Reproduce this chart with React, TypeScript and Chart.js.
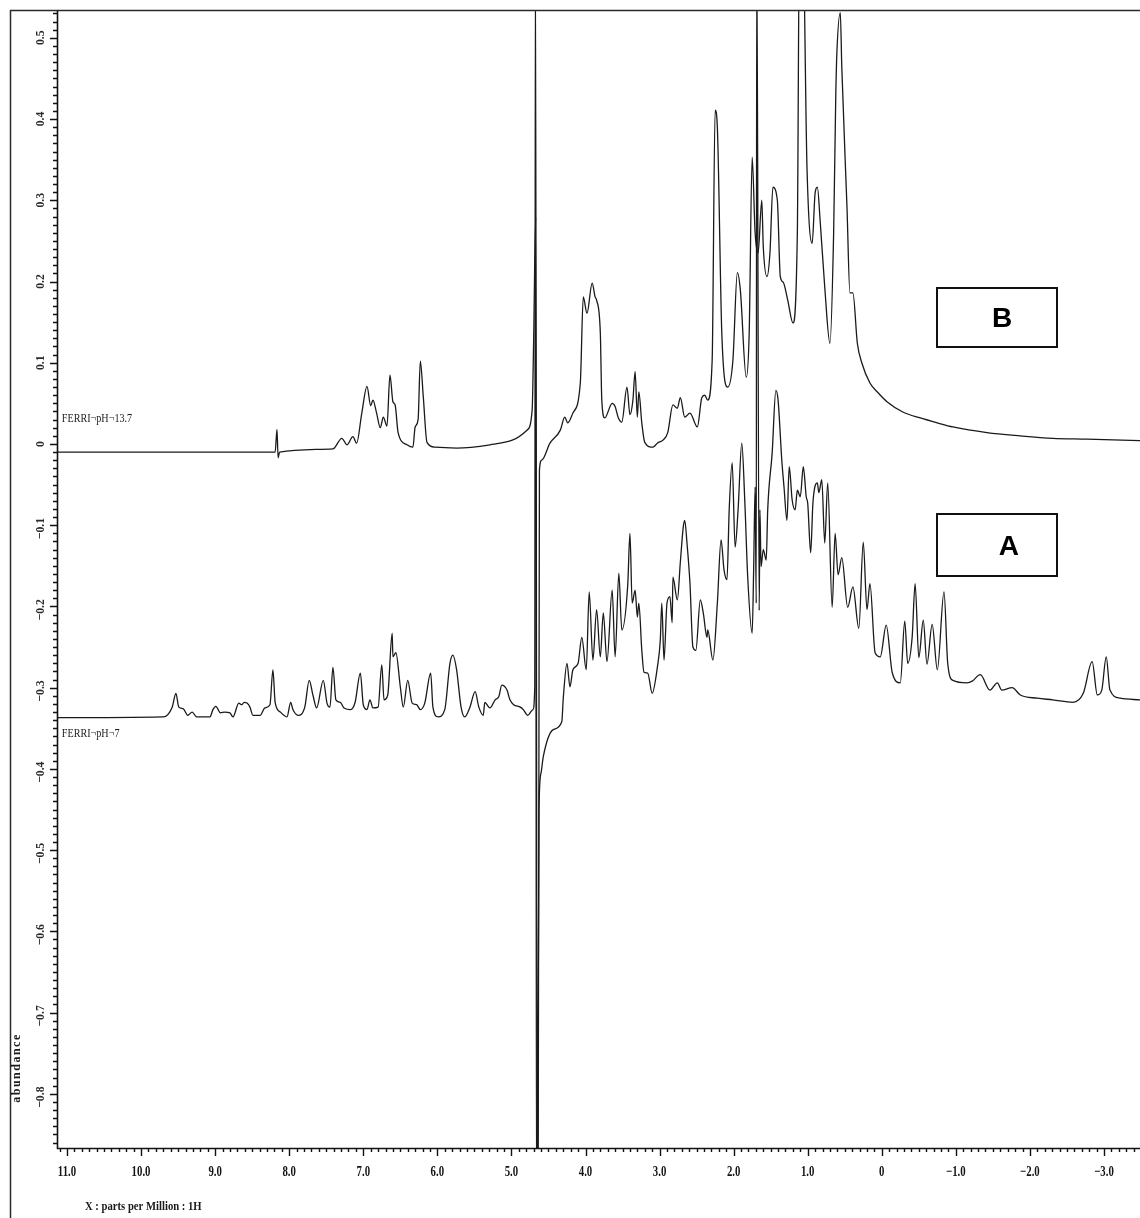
import React, { useEffect, useRef } from "react";
import { Chart, registerables } from "chart.js";

Chart.register(...registerables);

// ---- Spectrum B (FERRI pH 13.7): chemical shift (ppm) and abundance ----
const ppmB = [
  11.13, 9.88, 8.53, 8.19, 8.165, 8.15, 8.13, 7.41, 7.29, 7.22,
  7.14, 7.09, 7.02, 6.95, 6.9, 6.87, 6.82, 6.77, 6.73, 6.68,
  6.64, 6.6, 6.57, 6.53, 6.41, 6.33, 6.3, 6.26, 6.23, 6.19,
  6.14, 6.03, 5.74, 5.29, 4.98, 4.79, 4.72, 4.7, 4.672, 4.662,
  4.64, 4.622, 4.59, 4.48, 4.34, 4.28, 4.24, 4.17, 4.07, 4.03,
  3.98, 3.91, 3.87, 3.85, 3.8, 3.78, 3.74, 3.64, 3.6, 3.56,
  3.51, 3.44, 3.4, 3.36, 3.33, 3.3, 3.28, 3.24, 3.2, 3.09,
  3.03, 2.95, 2.89, 2.82, 2.76, 2.72, 2.66, 2.59, 2.49, 2.43,
  2.39, 2.35, 2.29, 2.25, 2.22, 2.16, 2.08, 2.01, 1.95, 1.91,
  1.83, 1.79, 1.75, 1.71, 1.67, 1.62, 1.6, 1.55, 1.51, 1.47,
  1.41, 1.37, 1.33, 1.27, 1.2, 1.14, 1.11, 1.07, 1.01, 0.94,
  0.9, 0.87, 0.83, 0.77, 0.7, 0.65, 0.62, 0.61, 0.56, 0.54,
  0.47, 0.43, 0.39, 0.33, 0.27, 0.16, 0.05, -0.07, -0.29, -0.52,
  -0.75, -0.96, -1.42, -1.87, -2.31, -2.77, -3.49,
];
const absB = [
  -0.01, -0.01, -0.01, -0.01, 0.018, -0.017, -0.01, -0.006, 0.007, -0.001,
  0.009, 0.001, 0.038, 0.071, 0.047, 0.054, 0.038, 0.02, 0.033, 0.022,
  0.085, 0.052, 0.048, 0.014, -0.001, -0.004, 0.021, 0.03, 0.102, 0.058,
  0.002, -0.004, -0.005, -0.001, 0.005, 0.017, 0.042, 0.128, 0.279, -0.95,
  -0.95, -0.032, -0.02, 0.001, 0.017, 0.033, 0.026, 0.038, 0.075, 0.181,
  0.161, 0.198, 0.181, 0.177, 0.137, 0.054, 0.032, 0.05, 0.046, 0.033,
  0.027, 0.07, 0.036, 0.054, 0.089, 0.033, 0.064, 0.026, 0.002, -0.004,
  0.001, 0.005, 0.014, 0.048, 0.044, 0.057, 0.033, 0.038, 0.021, 0.057,
  0.06, 0.054, 0.103, 0.411, 0.39, 0.137, 0.07, 0.103, 0.211, 0.19,
  0.082, 0.137, 0.353, 0.26, 0.235, 0.3, 0.243, 0.206, 0.235, 0.316,
  0.3, 0.206, 0.199, 0.177, 0.149, 0.26, 0.65, 0.65, 0.341, 0.247,
  0.309, 0.316, 0.272, 0.193, 0.124, 0.26, 0.436, 0.473, 0.531, 0.464,
  0.292, 0.186, 0.186, 0.124, 0.1, 0.075, 0.063, 0.052, 0.039, 0.032,
  0.026, 0.021, 0.014, 0.01, 0.007, 0.006, 0.004,
];

// ---- Spectrum A (FERRI pH 7) ----
const ppmA = [
  11.13, 9.7, 9.58, 9.53, 9.49, 9.43, 9.37, 9.31, 9.25, 9.07,
  9.03, 8.99, 8.93, 8.87, 8.8, 8.76, 8.68, 8.64, 8.61, 8.57,
  8.53, 8.49, 8.39, 8.33, 8.26, 8.22, 8.19, 8.12, 8.03, 7.98,
  7.95, 7.88, 7.79, 7.73, 7.68, 7.63, 7.54, 7.49, 7.45, 7.41,
  7.37, 7.31, 7.26, 7.17, 7.11, 7.04, 7.0, 6.95, 6.91, 6.87,
  6.8, 6.75, 6.72, 6.67, 6.61, 6.6, 6.56, 6.5, 6.46, 6.4,
  6.34, 6.28, 6.23, 6.17, 6.09, 6.06, 5.99, 5.9, 5.83, 5.79,
  5.74, 5.68, 5.63, 5.56, 5.49, 5.44, 5.38, 5.36, 5.29, 5.22,
  5.17, 5.13, 5.06, 5.02, 4.97, 4.88, 4.84, 4.78, 4.71, 4.685,
  4.676, 4.65, 4.628, 4.6, 4.57, 4.44, 4.32, 4.3, 4.25, 4.21,
  4.17, 4.1, 4.05, 3.99, 3.95, 3.9, 3.85, 3.8, 3.76, 3.71,
  3.64, 3.6, 3.55, 3.51, 3.43, 3.4, 3.37, 3.33, 3.3, 3.28,
  3.24, 3.21, 3.16, 3.1, 3.03, 2.99, 2.97, 2.94, 2.9, 2.86,
  2.83, 2.82, 2.76, 2.72, 2.68, 2.66, 2.63, 2.59, 2.55, 2.51,
  2.45, 2.41, 2.36, 2.35, 2.28, 2.22, 2.17, 2.13, 2.09, 2.06,
  2.02, 1.98, 1.94, 1.89, 1.85, 1.81, 1.75, 1.73, 1.71, 1.695,
  1.688, 1.655, 1.645, 1.63, 1.6, 1.56, 1.54, 1.48, 1.43, 1.4,
  1.35, 1.32, 1.28, 1.25, 1.21, 1.17, 1.14, 1.1, 1.06, 1.02,
  1.0, 0.96, 0.93, 0.87, 0.85, 0.81, 0.77, 0.73, 0.67, 0.63,
  0.59, 0.54, 0.46, 0.39, 0.31, 0.25, 0.2, 0.16, 0.09, 0.02,
  -0.06, -0.14, -0.25, -0.31, -0.35, -0.41, -0.45, -0.5, -0.56, -0.61,
  -0.68, -0.75, -0.84, -0.89, -0.96, -1.15, -1.22, -1.33, -1.46, -1.56,
  -1.62, -1.76, -1.87, -2.1, -2.31, -2.58, -2.72, -2.84, -2.91, -2.97,
  -3.03, -3.08, -3.22, -3.49,
];
const absA = [
  -0.337, -0.336, -0.324, -0.307, -0.324, -0.326, -0.334, -0.33, -0.336, -0.336,
  -0.327, -0.323, -0.331, -0.33, -0.331, -0.336, -0.319, -0.321, -0.318, -0.319,
  -0.324, -0.334, -0.334, -0.325, -0.321, -0.278, -0.318, -0.33, -0.336, -0.318,
  -0.327, -0.334, -0.324, -0.291, -0.309, -0.325, -0.291, -0.319, -0.324, -0.275,
  -0.315, -0.318, -0.325, -0.327, -0.318, -0.282, -0.321, -0.327, -0.315, -0.325,
  -0.324, -0.272, -0.315, -0.309, -0.233, -0.262, -0.257, -0.299, -0.324, -0.291,
  -0.319, -0.321, -0.327, -0.319, -0.282, -0.324, -0.336, -0.327, -0.27, -0.26,
  -0.278, -0.324, -0.336, -0.324, -0.305, -0.324, -0.334, -0.318, -0.325, -0.315,
  -0.311, -0.297, -0.303, -0.315, -0.321, -0.324, -0.327, -0.334, -0.327, -0.299,
  0.62, -0.95, -0.45, -0.405, -0.385, -0.352, -0.342, -0.313, -0.27, -0.299,
  -0.278, -0.27, -0.238, -0.278, -0.182, -0.266, -0.204, -0.262, -0.208, -0.268,
  -0.18, -0.262, -0.159, -0.229, -0.174, -0.11, -0.196, -0.18, -0.213, -0.196,
  -0.254, -0.281, -0.282, -0.307, -0.275, -0.241, -0.196, -0.266, -0.196, -0.188,
  -0.22, -0.164, -0.192, -0.146, -0.102, -0.094, -0.122, -0.171, -0.25, -0.254,
  -0.192, -0.208, -0.238, -0.229, -0.266, -0.196, -0.118, -0.155, -0.167, -0.081,
  -0.023, -0.127, -0.081, 0.001, -0.069, -0.164, -0.233, -0.155, -0.053, -0.196,
  0.62, -0.205, -0.081, -0.151, -0.13, -0.143, -0.081, -0.011, 0.066, 0.054,
  -0.02, -0.053, -0.094, -0.028, -0.069, -0.081, -0.057, -0.065, -0.028, -0.065,
  -0.073, -0.134, -0.073, -0.048, -0.06, -0.044, -0.122, -0.048, -0.201, -0.11,
  -0.161, -0.14, -0.201, -0.176, -0.227, -0.121, -0.204, -0.172, -0.257, -0.262,
  -0.223, -0.281, -0.294, -0.218, -0.27, -0.238, -0.172, -0.263, -0.217, -0.271,
  -0.222, -0.278, -0.182, -0.27, -0.291, -0.294, -0.292, -0.284, -0.303, -0.294,
  -0.303, -0.3, -0.309, -0.313, -0.315, -0.318, -0.307, -0.268, -0.309, -0.303,
  -0.262, -0.303, -0.313, -0.315,
];

// ---- Text and ticks ----
const seriesNames = ["FERRI\u00acpH\u00ac13.7", "FERRI\u00acpH\u00ac7"];
const seriesLabelPpm = [11.07, 11.07];
const seriesLabelAbs = [0.031, -0.356];

const boxLetters = ["B", "A"];
const boxPpmLeft = [-0.745, -0.745];
const boxPpmRight = [-2.365, -2.365];
const boxAbsTop = [0.192, -0.086];
const boxAbsBottom = [0.119, -0.1625];
const letterPpm = [-1.623, -1.717];
const letterAbs = [0.155, -0.1256];

const xMajorTicks = [11, 10, 9, 8, 7, 6, 5, 4, 3, 2, 1, 0, -1, -2, -3];
const xTickLabels = ["11.0", "10.0", "9.0", "8.0", "7.0", "6.0", "5.0", "4.0", "3.0", "2.0", "1.0", "0", "\u22121.0", "\u22122.0", "\u22123.0"];
const yMajorTicks = [0.5, 0.4, 0.3, 0.2, 0.1, 0, -0.1, -0.2, -0.3, -0.4, -0.5, -0.6, -0.7, -0.8];
const yTickLabels = ["0.5", "0.4", "0.3", "0.2", "0.1", "0", "\u22120.1", "\u22120.2", "\u22120.3", "\u22120.4", "\u22120.5", "\u22120.6", "\u22120.7", "\u22120.8"];
const xTitle = "X : parts per Million : 1H";
const yTitle = "abundance";

const X_MIN = -3.486;
const X_MAX = 11.135;
const Y_MIN = -0.8667;
const Y_MAX = 0.533;

const decorPlugin = {
  id: "nmrDecor",
  afterDraw(chart: any) {
    const { ctx, chartArea: ca, scales } = chart;
    const xs = scales.x;
    const ys = scales.y;
    ctx.save();

    // outer frame (top and left)
    ctx.strokeStyle = "#2a2a2a";
    ctx.lineWidth = 1.5;
    ctx.beginPath();
    ctx.moveTo(10, 10.5);
    ctx.lineTo(1140, 10.5);
    ctx.moveTo(10.5, 10);
    ctx.lineTo(10.5, 1218);
    ctx.stroke();

    // axis lines
    ctx.strokeStyle = "#111";
    ctx.lineWidth = 1.6;
    ctx.beginPath();
    ctx.moveTo(ca.left + 0.5, ca.top);
    ctx.lineTo(ca.left + 0.5, ca.bottom + 0.5);
    ctx.lineTo(ca.right, ca.bottom + 0.5);
    ctx.stroke();

    // y ticks
    ctx.lineWidth = 1.4;
    ctx.beginPath();
    for (let i = Math.ceil(Y_MIN * 100); i <= Math.floor(Y_MAX * 100); i++) {
      const y = Math.round(ys.getPixelForValue(i / 100)) + 0.5;
      const len = i % 10 === 0 ? 7 : 4;
      ctx.moveTo(ca.left, y);
      ctx.lineTo(ca.left - len, y);
    }
    ctx.stroke();

    // x ticks
    ctx.beginPath();
    for (let i = Math.ceil(X_MIN * 10); i <= Math.floor(X_MAX * 10); i++) {
      const x = Math.round(xs.getPixelForValue(i / 10)) + 0.5;
      const len = i % 10 === 0 ? 8 : 4;
      ctx.moveTo(x, ca.bottom);
      ctx.lineTo(x, ca.bottom + len);
    }
    ctx.stroke();

    // x tick labels
    ctx.fillStyle = "#141414";
    ctx.font = "bold 15px 'Liberation Serif', serif";
    ctx.textAlign = "center";
    ctx.textBaseline = "middle";
    xMajorTicks.forEach((v, k) => {
      const x = xs.getPixelForValue(v);
      ctx.save();
      ctx.translate(x, ca.bottom + 24);
      ctx.scale(0.72, 1);
      ctx.fillText(xTickLabels[k], 0, 0);
      ctx.restore();
    });

    // y tick labels (rotated)
    ctx.font = "bold 13px 'Liberation Serif', serif";
    ctx.fillStyle = "#2b2b2b";
    ctx.textAlign = "left";
    yMajorTicks.forEach((v, k) => {
      const y = ys.getPixelForValue(v);
      const label = yTickLabels[k];
      const w = ctx.measureText(label).width;
      const m = label.startsWith("\u2212") ? ctx.measureText("\u2212").width : 0;
      ctx.save();
      ctx.translate(41, y);
      ctx.rotate(-Math.PI / 2);
      ctx.scale(0.9, 1);
      ctx.fillText(label, -m - (w - m) / 2, 0);
      ctx.restore();
    });

    // axis titles
    ctx.fillStyle = "#1a1a1a";
    ctx.font = "bold 13px 'Liberation Serif', serif";
    ctx.save();
    ctx.translate(85, 1207);
    ctx.scale(0.82, 1);
    ctx.textAlign = "left";
    ctx.fillText(xTitle, 0, 0);
    ctx.restore();

    ctx.save();
    ctx.translate(17, 1068);
    ctx.rotate(-Math.PI / 2);
    ctx.textAlign = "center";
    (ctx as any).letterSpacing = "1.5px";
    ctx.font = "bold 12px 'Liberation Serif', serif";
    ctx.fillText(yTitle, 0, 0);
    ctx.restore();

    // series labels
    ctx.font = "13px 'Liberation Serif', serif";
    ctx.fillStyle = "#1a1a1a";
    ctx.textAlign = "left";
    seriesNames.forEach((name, k) => {
      ctx.save();
      ctx.translate(xs.getPixelForValue(seriesLabelPpm[k]), ys.getPixelForValue(seriesLabelAbs[k]));
      ctx.scale(0.78, 1);
      ctx.fillText(name, 0, 0);
      ctx.restore();
    });

    // boxed letters
    ctx.strokeStyle = "#111";
    ctx.lineWidth = 2;
    ctx.fillStyle = "#000";
    ctx.font = "bold 28px 'Liberation Sans', Arial, sans-serif";
    ctx.textAlign = "center";
    ctx.textBaseline = "middle";
    boxLetters.forEach((letter, k) => {
      const x0 = xs.getPixelForValue(boxPpmLeft[k]);
      const x1 = xs.getPixelForValue(boxPpmRight[k]);
      const y0 = ys.getPixelForValue(boxAbsTop[k]);
      const y1 = ys.getPixelForValue(boxAbsBottom[k]);
      ctx.strokeRect(Math.round(x0), Math.round(y0), Math.round(x1 - x0), Math.round(y1 - y0));
      ctx.fillText(letter, xs.getPixelForValue(letterPpm[k]), ys.getPixelForValue(letterAbs[k]) + 1);
    });

    ctx.restore();
  },
};

export default function App() {
  const canvasRef = useRef<HTMLCanvasElement | null>(null);

  useEffect(() => {
    const canvas = canvasRef.current;
    if (!canvas) return;
    const toPoints = (xs: number[], ys: number[]) => xs.map((x, i) => ({ x, y: ys[i] }));
    const common = {
      borderColor: "#1a1a1a",
      borderWidth: 1.3,
      pointRadius: 0,
      fill: false,
      cubicInterpolationMode: "monotone" as const,
    };
    const chart = new Chart(canvas, {
      type: "line",
      data: {
        datasets: [
          { label: seriesNames[0], data: toPoints(ppmB, absB), ...common },
          { label: seriesNames[1], data: toPoints(ppmA, absA), ...common },
        ],
      },
      options: {
        animation: false,
        responsive: false,
        devicePixelRatio: 1,
        parsing: false as any,
        layout: { padding: { left: 57, top: 11, right: 0, bottom: 70 } },
        plugins: {
          legend: { display: false },
          tooltip: { enabled: false },
        },
        scales: {
          x: { type: "linear", reverse: true, min: X_MIN, max: X_MAX, display: false },
          y: { type: "linear", min: Y_MIN, max: Y_MAX, display: false },
        },
      },
      plugins: [decorPlugin],
    });
    return () => chart.destroy();
  }, []);

  return (
    <div style={{ position: "fixed", left: 0, top: 0, width: 1140, height: 1218, background: "#fff" }}>
      <canvas ref={canvasRef} width={1140} height={1218} style={{ display: "block", width: 1140, height: 1218 }} />
    </div>
  );
}
